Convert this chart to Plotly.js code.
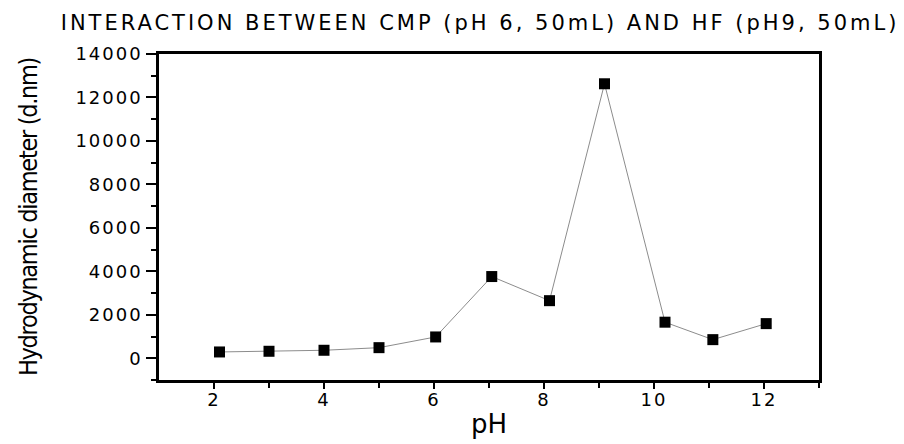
<!DOCTYPE html>
<html>
<head>
<meta charset="utf-8">
<script src="https://cdn.plot.ly/plotly-3.0.1.min.js"></script>
<style>
html,body{margin:0;padding:0;background:#fff;}
#chart{width:904px;height:444px;}
#chart text.gtitle{letter-spacing:3px;}
#chart .xaxislayer-above text, #chart .yaxislayer-above text{letter-spacing:2px;}
#chart text.ytitle{letter-spacing:-1.3px;}
</style>
</head>
<body>
<div id="chart"></div>
<script>
const chartTitle = "INTERACTION BETWEEN CMP (pH 6, 50mL) AND HF (pH9, 50mL)";
const xLabel = "pH";
const yLabel = "Hydrodynamic diameter (d.nm)";
const pH = [2.1, 3.0, 4.0, 5.0, 6.03, 7.05, 8.1, 9.1, 10.2, 11.07, 12.04];
const diameter = [290, 322, 368, 488, 981, 3760, 2650, 12630, 1660, 857, 1594];
const xTicks = [2, 4, 6, 8, 10, 12];
const yTicks = [0, 2000, 4000, 6000, 8000, 10000, 12000, 14000];

const fam = "DejaVu Sans, Arial, sans-serif";
const tickFont = {family: fam, size: 18, color: "#000"};

Plotly.newPlot("chart", [{
  x: pH, y: diameter, type: "scatter", mode: "lines+markers",
  line: {color: "#8c8c8c", width: 1},
  marker: {symbol: "square", size: 11, color: "#000"},
  showlegend: false
}], {
  width: 904, height: 444,
  paper_bgcolor: "#fff", plot_bgcolor: "#fff",
  margin: {l: 159, r: 85, t: 54, b: 64},
  title: {text: chartTitle, x: 0.531, xanchor: "center", y: 0.948, yanchor: "middle",
          font: {family: fam, size: 21, color: "#000"}},
  xaxis: {
    range: [1, 13], tickvals: xTicks, ticktext: xTicks.map(String),
    showgrid: false, zeroline: false, showline: true, linecolor: "#000", linewidth: 2.5, mirror: true,
    ticks: "outside", ticklen: 6, tickwidth: 2, tickcolor: "#000", ticklabelstandoff: -4,
    minor: {tickvals: [3, 5, 7, 9, 11, 13], ticks: "outside", ticklen: 5, tickwidth: 2, tickcolor: "#000"},
    tickfont: tickFont,
    title: {text: xLabel, font: {family: fam, size: 26, color: "#000"}, standoff: 6}
  },
  yaxis: {
    range: [-1000, 14000], tickvals: yTicks, ticktext: yTicks.map(String),
    showgrid: false, zeroline: false, showline: true, linecolor: "#000", linewidth: 2.5, mirror: true,
    ticks: "outside", ticklen: 10, tickwidth: 2, tickcolor: "#000",
    minor: {dtick: 1000, ticks: "outside", ticklen: 5, tickwidth: 2, tickcolor: "#000"},
    tickfont: tickFont,
    title: {text: yLabel, font: {family: "Liberation Sans Narrow, DejaVu Sans Condensed, Arial, sans-serif", size: 25, color: "#000"}, standoff: 41}
  }
}, {displayModeBar: false});
</script>
</body>
</html>
